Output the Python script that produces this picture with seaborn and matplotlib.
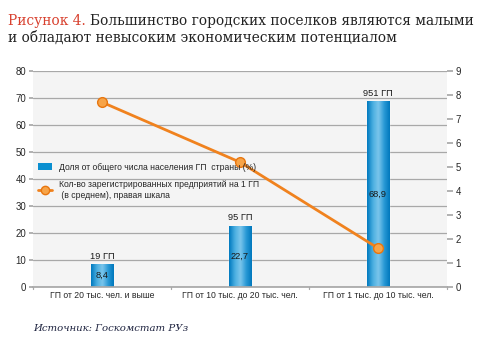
import numpy as np
import pandas as pd
import matplotlib
matplotlib.use("Agg")
import matplotlib.pyplot as plt
import seaborn as sns
from matplotlib.colors import LinearSegmentedColormap
from matplotlib.lines import Line2D
from matplotlib.patches import Patch

categories = ["ГП от 20 тыс. чел. и выше", "ГП от 10 тыс. до 20 тыс. чел.", "ГП от 1 тыс. до 10 тыс. чел."]
pop_share = [8.4, 22.7, 68.9]
pop_labels = ["8,4", "22,7", "68,9"]
count_labels = ["19 ГП", "95 ГП", "951 ГП"]
firms_per_gp = [7.7, 5.2, 1.62]
left_ticks = list(range(0, 81, 10))
right_ticks = list(range(0, 10))

sns.set_theme(style="white")
plt.rcParams["font.family"] = ["Liberation Sans", "DejaVu Sans"]
fs = 6.2
serif = ["DejaVu Serif"]

fig = plt.figure(figsize=(4.85, 3.46), dpi=100)
ax = fig.add_axes([33/485, 1 - 287/346, 414/485, 216/346])
ax.set_facecolor("#f4f4f4")

df = pd.DataFrame({"cat": categories, "val": pop_share})
sns.barplot(data=df, x="cat", y="val", ax=ax, color="#0a8fd0", width=0.16,
            saturation=1, zorder=2)
ax.set_xlim(-0.5, 2.5)
ax.set_ylim(0, 80)
ax.set_yticks(left_ticks)
ax.set_xlabel("")
ax.set_ylabel("")
ax.yaxis.grid(True, color="#a8a8a8", linewidth=0.9)
ax.set_axisbelow(True)
for s in ["top", "right", "left"]:
    ax.spines[s].set_visible(False)
ax.spines["bottom"].set_color("#a8a8a8")
ax.tick_params(axis="y", labelsize=fs + 0.7, length=3, color="#a8a8a8", pad=2, left=True)
ax.tick_params(axis="x", labelsize=fs, length=0, pad=3)
ax.set_xticks(range(3))
ax.set_xticklabels(categories)
for x in [-0.5, 0.5, 1.5, 2.5]:
    ax.plot([x, x], [0, -0.8], color="#a8a8a8", lw=0.9, clip_on=False)

# gradient fill for bars
cmap = LinearSegmentedColormap.from_list("g", ["#0079bf", "#49aee0", "#7cc6ec", "#2a9ad6", "#0078bd"])
grad = np.linspace(0, 1, 64).reshape(1, -1)
for p in ax.patches:
    x0, y0 = p.get_x(), p.get_y()
    w, h = p.get_width(), p.get_height()
    im = ax.imshow(grad, extent=[x0, x0 + w, y0, y0 + h], aspect="auto", cmap=cmap,
                   zorder=2.5, interpolation="bicubic")
    im.set_clip_path(p)
ax.set_xlim(-0.5, 2.5)
ax.set_ylim(0, 80)

for i, (v, vl, cl) in enumerate(zip(pop_share, pop_labels, count_labels)):
    ax.text(i, v / 2, vl, ha="center", va="center", fontsize=fs + 0.5, color="#1a1a1a", zorder=4)
    ax.text(i, v + 1.2, cl, ha="center", va="bottom", fontsize=fs + 0.5, color="#1a1a1a", zorder=4)

ax2 = ax.twinx()
sns.lineplot(x=np.arange(len(categories)), y=firms_per_gp, ax=ax2, color="#f0821e",
             linewidth=2, marker="o", markersize=7, markerfacecolor="#f7a448",
             markeredgecolor="#e8760f", markeredgewidth=1, zorder=5)
ax2.set_ylim(0, 9)
ax2.set_yticks(right_ticks)
ax2.set_xlim(-0.5, 2.5)
for s in ["top", "right", "left", "bottom"]:
    ax2.spines[s].set_visible(False)
ax2.tick_params(axis="y", labelsize=fs + 0.7, length=4, color="#a8a8a8", pad=2, right=True)
ax2.grid(False)

handles = [Patch(facecolor="#0a8fd0", edgecolor="none"),
           Line2D([0], [0], color="#f0821e", lw=2, marker="o", markersize=6,
                  markerfacecolor="#f7a448", markeredgecolor="#e8760f")]
labels = ["Доля от общего числа населения ГП  страны (%)",
          "Кол-во зарегистрированных предприятий на 1 ГП\n (в среднем), правая шкала"]
leg = ax2.legend(handles, labels, loc="upper left", bbox_to_anchor=(0.0, 0.6),
                 frameon=False, fontsize=fs, handlelength=1.6, handleheight=1.0,
                 handletextpad=0.8, labelspacing=1.0, borderaxespad=0.2)

fig.canvas.draw()
r = fig.canvas.get_renderer()
tfs = 9.9
t1 = fig.text(8/485, 1 - 25/346, "Рисунок 4.", fontsize=tfs, color="#d8412f",
              family=serif, va="baseline")
bb = t1.get_window_extent(renderer=r)
fig.text((bb.x1 + 4) / 485, 1 - 25/346, "Большинство городских поселков являются малыми",
         fontsize=tfs, color="#222222", family=serif, va="baseline")
fig.text(8/485, 1 - 42/346, "и обладают невысоким экономическим потенциалом",
         fontsize=tfs, color="#222222", family=serif, va="baseline")
fig.text(33/485, 1 - 331/346, "Источник: Госкомстат РУз", fontsize=7.3, style="italic",
         color="#1f2440", family=serif, va="baseline")

fig.savefig("out.png", dpi=100)
